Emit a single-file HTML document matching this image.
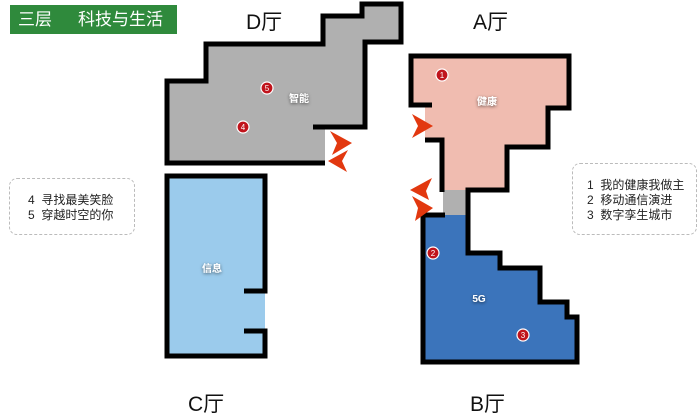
<!DOCTYPE html>
<html><head><meta charset="utf-8"><style>
html,body{margin:0;padding:0;background:#fff;}
body{width:700px;height:413px;overflow:hidden;position:relative;font-family:"Liberation Sans","Noto Sans CJK SC",sans-serif;}
.lab{position:absolute;font-size:21px;color:#111;}
.box{position:absolute;border:1px dashed #bbb;border-radius:8px;font-size:12px;line-height:15px;color:#222;box-sizing:border-box;}
</style></head><body>
<div style="position:absolute;left:10px;top:5px;width:167px;height:29px;background:#2f8a3c;color:#fff;font-size:17px;line-height:29px;box-sizing:border-box;padding-left:8px;">三层<span style="margin-left:26px">科技与生活</span></div>
<div class="lab" style="left:246px;top:6px">D厅</div>
<div class="lab" style="left:473px;top:6px">A厅</div>
<div class="lab" style="left:188px;top:388px">C厅</div>
<div class="lab" style="left:470px;top:388px">B厅</div>
<div class="box" style="left:9px;top:178px;width:126px;height:57px;padding:14px 0 0 18px">4&nbsp; 寻找最美笑脸<br>5&nbsp; 穿越时空的你</div>
<div class="box" style="left:572px;top:163px;width:125px;height:72px;padding:14px 0 0 14px">1&nbsp; 我的健康我做主<br>2&nbsp; 移动通信演进<br>3&nbsp; 数字孪生城市</div>
<svg width="700" height="413" style="position:absolute;left:0;top:0">
<defs><filter id="sh"><feDropShadow dx="0" dy="1" stdDeviation="1.5" flood-color="#000" flood-opacity="0.6"/></filter></defs>
<!-- D hall -->
<polygon points="167,81 206,81 206,44 323,44 323,16 362,16 362,4 401,4 401,42 365,42 365,125 325,125 325,163 167,163" fill="#b0b0b0"/>
<polyline points="313,127 365,127 365,42 401,42 401,4 362,4 362,16 323,16 323,44 206,44 206,81 167,81 167,163 325,163" fill="none" stroke="#000" stroke-width="5"/>
<!-- C hall -->
<rect x="167" y="176" width="98" height="180" fill="#9bcbec"/>
<polyline points="244,291 265,291 265,176 167,176 167,356 265,356 265,331 244,331" fill="none" stroke="#000" stroke-width="5"/>
<!-- A pink -->
<polygon points="411,56 569,56 569,108 548,108 548,147 507,147 507,190 443,190 443,140 425,140 425,105 411,105" fill="#f0bcb0"/>
<rect x="443" y="190" width="25" height="25" fill="#b0b0b0"/>
<polygon points="423,215 468,215 468,253 500,253 500,268 540,268 540,302 567,302 567,317 577,317 577,362 423,362" fill="#3b74bb"/>
<polyline points="432,105 411,105 411,56 569,56 569,108 548,108 548,147 507,147 507,190 468,190 468,253 500,253 500,268 540,268 540,302 567,302 567,317 577,317 577,362 423,362 423,215 445,215" fill="none" stroke="#000" stroke-width="5"/>
<polyline points="425,140 442,140 442,192" fill="none" stroke="#000" stroke-width="5"/>
<!-- arrows -->
<g fill="#e2380f">
<polygon points="352,143 330,131 337,143 332,155"/>
<polygon points="328,161 348,150 342,161 347,172"/>
<polygon points="433,126 412,114 418,126 412,138"/>
<polygon points="410,190 432,178 426,191 429,200"/>
<polygon points="433,208 412,196 418,208 415,221"/>
</g>
<!-- markers -->
<g fill="#c0141c" stroke="#fff" stroke-width="1.2">
<circle cx="267" cy="88" r="6"/><circle cx="243" cy="127" r="6"/>
<circle cx="442" cy="75" r="6"/><circle cx="433" cy="253" r="6"/><circle cx="523" cy="335" r="6"/>
</g>
<g fill="#fff" font-size="8" text-anchor="middle" font-family="Liberation Sans,sans-serif">
<text x="267" y="91">5</text><text x="243" y="130">4</text><text x="442" y="78">1</text><text x="433" y="256">2</text><text x="523" y="338">3</text>
</g>
<g fill="#fff" font-size="10" font-weight="bold" text-anchor="middle" filter="url(#sh)" font-family="Liberation Sans,Noto Sans CJK SC,sans-serif">
<text x="299" y="102">智能</text><text x="487" y="105">健康</text><text x="479" y="302">5G</text><text x="212" y="272">信息</text>
</g>
</svg>
</body></html>
